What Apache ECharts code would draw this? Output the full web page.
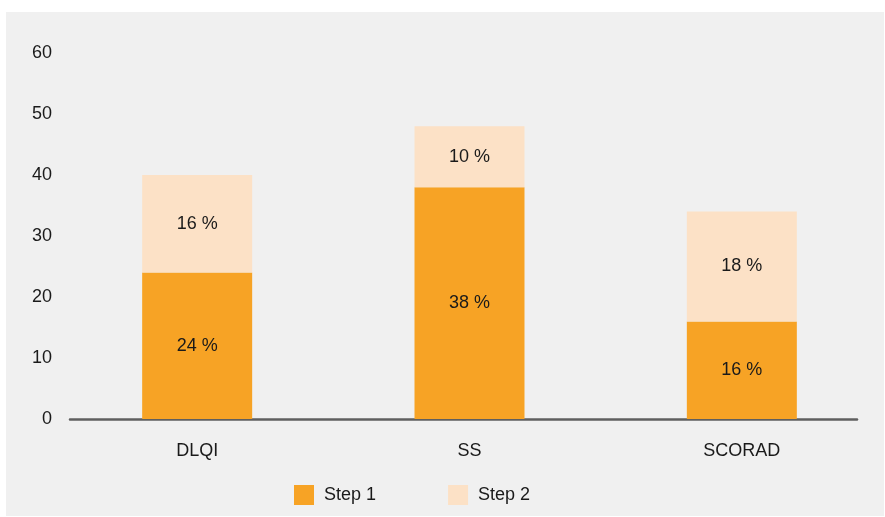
<!DOCTYPE html>
<html>
<head>
<meta charset="utf-8">
<script src="https://cdn.jsdelivr.net/npm/echarts@6/dist/echarts.min.js"></script>
<style>
  html, body { margin: 0; padding: 0; background: #ffffff; width: 885px; height: 517px; overflow: hidden; }
  #chart { position: absolute; left: 6px; top: 12px; width: 878px; height: 504px; background: #f0f0f0; }
</style>
</head>
<body>
<div id="chart"></div>
<script>
const categories = ['DLQI', 'SS', 'SCORAD'];
const seriesNames = ['Step 1', 'Step 2'];
const step1 = [24, 38, 16];
const step2 = [16, 10, 18];
const yMin = 0, yMax = 60, yStep = 10;

const FONT = "'Liberation Sans', Arial, sans-serif";
const TEXT = '#1a1a1a';
const FS = 18;

const chart = echarts.init(document.getElementById('chart'), null, { renderer: 'canvas' });

function barSeries(name, vals, color) {
  return {
    name: name,
    type: 'bar',
    stack: 'total',
    barWidth: 110,
    xAxisIndex: 0,
    yAxisIndex: 0,
    itemStyle: { color: color },
    label: {
      show: true,
      position: 'inside',
      color: TEXT,
      fontFamily: FONT,
      fontSize: FS,
      formatter: p => p.value + ' %'
    },
    emphasis: { disabled: true },
    data: vals
  };
}

chart.setOption({
  animation: false,
  backgroundColor: '#f0f0f0',
  textStyle: { fontFamily: FONT, color: TEXT },
  grid: [
    { left: 55, right: 6, top: 41, bottom: 97, containLabel: false },
    { left: 64, right: 27, top: 41, bottom: 97, containLabel: false }
  ],
  legend: {
    left: 283,
    top: 468,
    itemWidth: 20,
    itemHeight: 20,
    itemGap: 72,
    icon: 'rect',
    textStyle: { fontFamily: FONT, fontSize: FS, color: TEXT, padding: [0, 0, 0, 5] },
    data: seriesNames
  },
  xAxis: [
    {
      type: 'category',
      gridIndex: 0,
      data: categories,
      axisLine: { show: false },
      axisTick: { show: false },
      splitLine: { show: false },
      axisLabel: { fontFamily: FONT, fontSize: FS, color: TEXT, margin: 23 }
    },
    {
      type: 'value',
      gridIndex: 1,
      min: 0,
      max: 1,
      axisLine: { show: true, onZero: false, lineStyle: { color: '#5f5f5f', width: 2.5 } },
      axisTick: { show: false },
      axisLabel: { show: false },
      splitLine: { show: false }
    }
  ],
  yAxis: [
    {
      type: 'value',
      gridIndex: 0,
      min: yMin,
      max: yMax,
      interval: yStep,
      splitLine: { show: false },
      axisLine: { show: false },
      axisTick: { show: false },
      axisLabel: { fontFamily: FONT, fontSize: FS, color: TEXT, margin: 9, padding: [4, 0, 0, 0] }
    },
    {
      type: 'value',
      gridIndex: 1,
      min: 0,
      max: 1,
      show: false
    }
  ],
  series: [
    barSeries(seriesNames[0], step1, '#f7a325'),
    barSeries(seriesNames[1], step2, '#fce1c6')
  ]
});
</script>
</body>
</html>
